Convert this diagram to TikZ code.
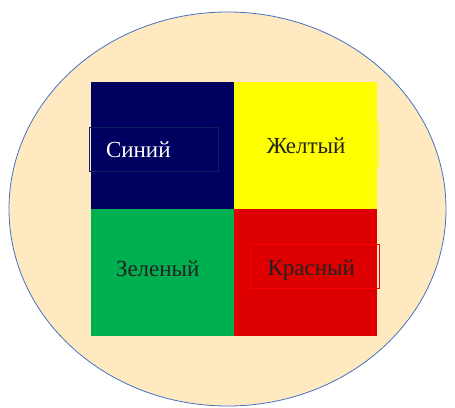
\documentclass[tikz,border=0pt]{standalone}
\usepackage{fontspec}
\setmainfont{Liberation Serif}
\usetikzlibrary{positioning}
\definecolor{navy}{RGB}{0,0,96}
\definecolor{navyline}{RGB}{12,34,96}
\definecolor{sunyellow}{RGB}{255,255,0}
\definecolor{leafgreen}{RGB}{0,176,80}
\definecolor{firered}{RGB}{222,0,0}
\definecolor{peach}{RGB}{255,233,193}
\definecolor{rimblue}{RGB}{68,114,196}
\definecolor{inkgray}{RGB}{34,34,34}

\begin{document}
\begin{tikzpicture}[x=1pt, y=1pt, node distance=0pt,
  tile/.style={draw=none, minimum width=143pt, minimum height=127pt,
    inner sep=0pt, outer sep=0pt},
  tag/.style={draw, line width=0.8pt, minimum height=44pt, text width=95pt,
    text height=22pt, text depth=4pt,
    inner xsep=17pt, align=left, font=\rmfamily\fontsize{23}{27}\selectfont,
    text=inkgray}]
  \useasboundingbox (0,0) rectangle (455,407);
  \fill[peach, draw=rimblue, line width=0.8pt] (227.5,198) ellipse [x radius=218.5, y radius=197];
  \node[tile, fill=navy] (blue) at (162.5,261.5) {};
  \node[tile, fill=sunyellow, right=of blue] (yellow) {};
  \node[tile, fill=leafgreen, below=of blue] (green) {};
  \node[tile, fill=firered, right=of green] (red) {};
  \node[tag, draw=navyline, text=white] (blueTag) at (153.5,258) {Синий};
  \node[tag, draw=sunyellow] (yellowTag) at (314,262.5) {Желтый};
  \node[tag, draw=leafgreen] (greenTag) at (163.5,139) {Зеленый};
  \node[tag, draw=red] (redTag) at (315,140.5) {Красный};
\end{tikzpicture}
\end{document}
